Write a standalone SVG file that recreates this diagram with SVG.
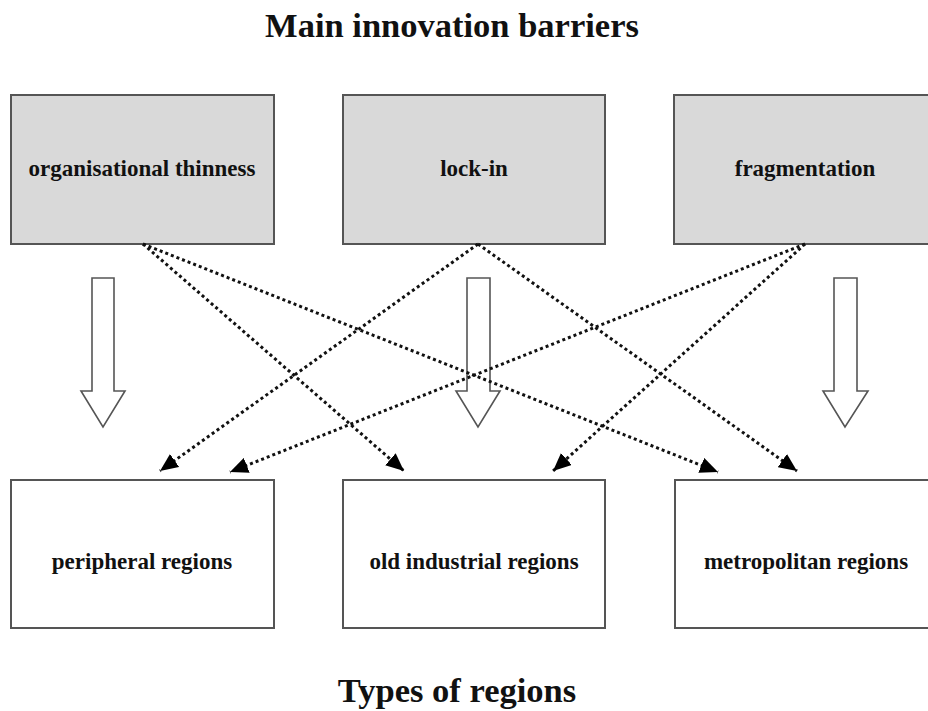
<svg xmlns="http://www.w3.org/2000/svg" width="928" height="711" viewBox="0 0 928 711">
<style>
.bar{fill:#d9d9d9;stroke:#555;stroke-width:2}
.reg{fill:#fff;stroke:#555;stroke-width:2}
.lbl{font-family:"Liberation Serif",serif;font-weight:bold;font-size:23px;fill:#111;text-anchor:middle}
.ttl{font-family:"Liberation Serif",serif;font-weight:bold;font-size:34.5px;fill:#111;text-anchor:middle}
.dot{fill:none;stroke:#111;stroke-width:3;stroke-dasharray:3 3;marker-end:url(#ah)}
.hol{fill:#fff;stroke:#555;stroke-width:1.6}
</style>
<defs>
<marker id="ah" markerUnits="userSpaceOnUse" markerWidth="20" markerHeight="16" refX="18" refY="8" orient="auto" viewBox="0 0 20 16">
<path d="M0,0 L18,8 L0,16 Z" fill="#000"/>
</marker>
</defs>
<rect width="928" height="711" fill="#fff"/>
<text class="ttl" x="452" y="37">Main innovation barriers</text>
<text class="ttl" x="457" y="702">Types of regions</text>
<g id="organisational-thinness"><rect class="bar" x="11" y="95" width="263" height="149"/><text class="lbl" x="142" y="176">organisational thinness</text></g>
<g id="lock-in"><rect class="bar" x="343" y="95" width="262" height="149"/><text class="lbl" x="474" y="176">lock-in</text></g>
<g id="fragmentation"><rect class="bar" x="674" y="95" width="263" height="149"/><text class="lbl" x="805" y="176">fragmentation</text></g>
<g id="peripheral-regions"><rect class="reg" x="11" y="480" width="263" height="148"/><text class="lbl" x="142" y="569">peripheral regions</text></g>
<g id="old-industrial-regions"><rect class="reg" x="343" y="480" width="262" height="148"/><text class="lbl" x="474" y="569">old industrial regions</text></g>
<g id="metropolitan-regions"><rect class="reg" x="675" y="480" width="262" height="148"/><text class="lbl" x="806" y="569">metropolitan regions</text></g>
<g id="connectors">
<path class="hol" d="M92,278 H114 V391 H125 L103,427 L81,391 H92 Z"/>
<path class="hol" d="M467,278 H490 V391 H500 L478,427 L456,391 H467 Z"/>
<path class="hol" d="M834,278 H857 V391 H868 L845,427 L823,391 H834 Z"/>
<path class="dot" d="M143,244 L404,471"/>
<path class="dot" d="M143,244 L718,472"/>
<path class="dot" d="M478,244 L160,471"/>
<path class="dot" d="M478,244 L797,471"/>
<path class="dot" d="M805,244 L230,472"/>
<path class="dot" d="M805,244 L553,471"/>
</g>
</svg>
